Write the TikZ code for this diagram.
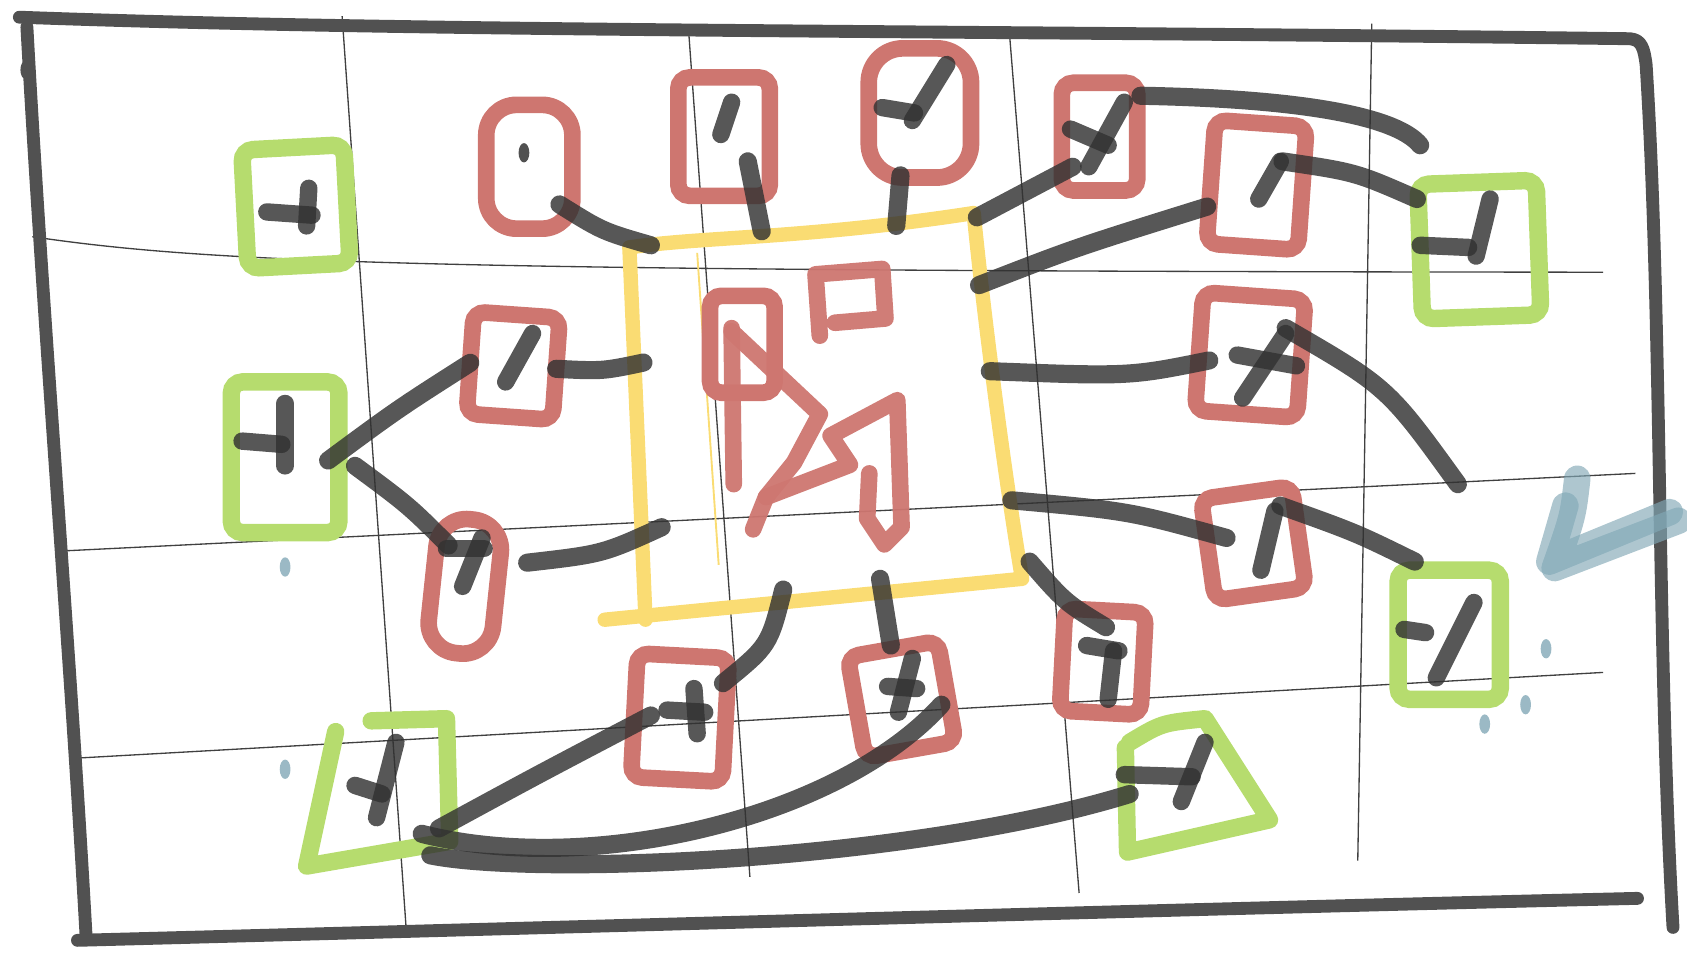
\documentclass[tikz,border=0pt]{standalone}
\usepackage{tikz}
\usetikzlibrary{positioning, calc}

\definecolor{sketchred}{RGB}{206,118,112}
\definecolor{sketchgreen}{RGB}{182,220,110}
\definecolor{sketchyellow}{RGB}{250,220,115}
\definecolor{sketchink}{RGB}{50,50,50}
\definecolor{sketchblue}{RGB}{130,168,182}

\begin{document}
\begin{tikzpicture}[
    x=0.01cm, y=-0.01cm,
    % Thick hand-drawn outer frame
    frameline/.style = {line width=3.4pt, sketchink!85, line cap=round, line join=round},
    % Thin pencil grid behind everything
    gridline/.style = {line width=0.35pt, black!75},
    % Box sizes are given in cm
    boxsize/.style 2 args = {minimum width=#1cm, minimum height=#2cm},
    redbox/.style = {draw=sketchred, line width=4.4pt, rounded corners=3pt, inner sep=0pt, outer sep=0pt},
    greenbox/.style = {draw=sketchgreen, line width=4.6pt, rounded corners=3pt, inner sep=0pt, outer sep=0pt},
    greenline/.style = {draw=sketchgreen, line width=4.6pt, line cap=round, line join=round},
    yellowline/.style = {draw=sketchyellow, line width=3.8pt, line cap=round, line join=round},
    redline/.style = {draw=sketchred, line width=4.4pt, line cap=round, line join=round, opacity=0.95},
    % Connectors: thick and a bit transparent so crossings show darker
    link/.style = {line width=4.8pt, sketchink, opacity=0.82, line cap=round},
    scrib/.style = {line width=4.6pt, sketchink, opacity=0.82, line cap=round},
    bluestroke/.style = {line width=7pt, sketchblue, opacity=0.65, line cap=round, line join=round}
]
    \useasboundingbox (0,0) rectangle (1568,885);

    % --- GRID ---
    \foreach \xa/\ya/\xb/\yb in {318/15/378/870, 640/28/697/815, 938/28/1003/830, 1275/22/1262/800}
        \draw[gridline] (\xa,\ya) -- (\xb,\yb);
    \draw[gridline] (30,220) .. controls (200,245) and (400,252) .. (1490,253);
    \draw[gridline] (60,512) -- (1520,440);
    \draw[gridline] (65,705) -- (1490,625);

    % --- OUTER FRAME ---
    \draw[frameline] (18,16) .. controls (400,30) and (900,28) .. (1515,36)
        .. controls (1526,37) and (1528,45) .. (1530,60)
        .. controls (1545,300) and (1540,600) .. (1555,862);
    \draw[frameline] (25,25) .. controls (40,300) and (65,600) .. (80,870);
    \draw[frameline] (72,874) .. controls (600,860) and (1100,845) .. (1522,835);
    \fill[sketchink!85] (23,65) ellipse (4 and 8);

    % --- CENTRE (yellow) ---
    \coordinate (Ytl) at (585,230);
    \coordinate (Ytr) at (905,198);
    \coordinate (Ybr) at (950,538);
    \coordinate (Ybl) at (600,576);
    \draw[yellowline] (Ytl) .. controls (650,220) and (750,222) .. (Ytr)
        .. controls (915,300) and (935,450) .. (Ybr) -- (562,576);
    \draw[yellowline] (Ytl) -- (Ybl);
    \draw[sketchyellow, line width=0.5pt] (648,235) -- (668,525);

    \node[redbox, boxsize={0.6}{0.9}] (C1) at (690,320) {};
    \draw[redline] (762,312) -- (758,255) -- (820,250) -- (823,296) -- (776,300);
    \draw[redline] (680,305) -- (682,450);
    \draw[redline] (680,308) -- (762,385) -- (738,430) -- (712,462) -- (700,492);
    \draw[redline] (712,462) -- (790,432) -- (772,405) -- (834,372) -- (838,490)
        -- (822,506) -- (806,482) -- (808,440);

    % ports on the yellow frame
    \coordinate (pA) at (605,228);
    \coordinate (pB) at (708,215);
    \coordinate (pC) at (833,210);
    \coordinate (pD) at (908,202);
    \coordinate (pE) at (910,265);
    \coordinate (pF) at (598,337);
    \coordinate (pG) at (615,490);
    \coordinate (pH) at (920,345);
    \coordinate (pI) at (940,465);
    \coordinate (pJ) at (957,522);
    \coordinate (pK) at (728,548);
    \coordinate (pL) at (818,538);

    % --- RED BOXES ---
    \node[redbox, boxsize={0.8}{1.15}, rounded corners=8pt] (R1) at (492,155) {};
    \node[redbox, boxsize={0.85}{1.1}] (R2) at (673,127) {};
    \node[redbox, boxsize={0.95}{1.2}, rounded corners=9pt] (R3) at (855,105) {};
    \node[redbox, boxsize={0.7}{1.0}] (R4) at (1022,127) {};
    \node[redbox, boxsize={0.85}{1.15}, rotate=-4] (R5) at (1168,172) {};
    \node[redbox, boxsize={0.8}{0.95}, rotate=-4] (R6) at (477,340) {};
    \node[redbox, boxsize={0.6}{1.25}, rotate=-6, rounded corners=8pt] (R7) at (432,545) {};
    \node[redbox, boxsize={0.95}{1.1}, rotate=-4] (R11) at (1162,330) {};
    \node[redbox, boxsize={0.85}{0.95}, rotate=8] (R12) at (1165,505) {};
    \node[redbox, boxsize={0.85}{1.15}, rotate=-3] (R13) at (632,667) {};
    \node[redbox, boxsize={0.85}{0.95}, rotate=10] (R14) at (838,650) {};
    \node[redbox, boxsize={0.75}{0.95}, rotate=-3] (R15) at (1025,615) {};

    % --- GREEN BOXES ---
    \node[greenbox, boxsize={0.95}{1.1}, rotate=3] (G1) at (275,192) {};
    \node[greenbox, boxsize={1.0}{1.4}] (G2) at (265,425) {};
    \node[greenbox, boxsize={1.1}{1.25}, rotate=2] (G4) at (1375,232) {};
    \node[greenbox, boxsize={0.95}{1.2}] (G5) at (1347,590) {};
    % the two slanted ones are drawn by hand round an empty node
    \node[inner sep=0pt, boxsize={1.3}{1.3}] (G3) at (350,737) {};
    \draw[greenline] (345,670) -- (415,668) -- (418,782) -- (285,805) -- (312,680);
    \node[inner sep=0pt, boxsize={1.35}{1.2}] (G6) at (1112,730) {};
    \draw[greenline] (1050,690) .. controls (1080,672) .. (1120,668) -- (1180,762)
        -- (1048,792) -- (1046,695);

    % --- MARKS INSIDE THE BOXES ---
    \foreach \ax/\ay/\bx/\by in {248/197/290/200, 287/175/285/210,
        680/95/670/125, 820/100/850/105, 880/60/848/112,
        995/120/1030/135, 1045/95/1012/155, 1190/150/1170/185,
        1320/228/1365/230, 1385/185/1372/238, 495/310/470/355,
        225/410/262/413, 265/375/265/433, 415/510/450/510, 448/500/430/545,
        1150/330/1205/340, 1195/310/1155/370, 1185/475/1172/530,
        1305/585/1325/588, 1370/560/1335/630, 620/660/655/662, 645/640/648/682,
        825/638/852/640, 848/612/835/662, 1010/600/1040/605, 1035/605/1030/650,
        330/730/355/738, 368/690/350/760, 1045/720/1108/722, 1120/690/1098/745}
        \draw[scrib] (\ax,\ay) -- (\bx,\by);
    \fill[sketchink, opacity=0.85] (487,142) ellipse (5 and 9);

    % --- CONNECTORS ---
    \coordinate (topEnd) at (1320,135);
    \coordinate (sideEnd) at (1355,450);
    \draw[link] ($(R1)+(28,35)$) .. controls (560,215) .. (pA);
    \draw[link] ($(R2)+(22,23)$) -- (pB);
    \draw[link] ($(R3)+(-18,58)$) -- (pC);
    \draw[link] ($(R4)+(-25,28)$) -- (pD);
    \draw[link] (pE) .. controls (1000,230) .. ($(R5)+(-46,20)$);
    \draw[link] ($(R4)+(38,-38)$) .. controls (1220,92) and (1300,110) .. (topEnd);
    \draw[link] ($(R5)+(24,-22)$) .. controls (1260,160) .. ($(G4)+(-58,-47)$);
    \draw[link] (R6.east) .. controls (560,345) .. (pF);
    \draw[link] ($(G2)+(40,3)$) .. controls (370,380) .. (R6.west);
    \draw[link] ($(G2)+(65,8)$) .. controls (380,470) .. ($(R7)+(-15,-38)$);
    \draw[link] ($(R7)+(58,-22)$) .. controls (560,515) .. (pG);
    \draw[link] (pH) .. controls (1050,350) .. ($(R11)+(-38,5)$);
    \draw[link] ($(R11)+(33,-25)$) .. controls (1290,360) .. (sideEnd);
    \draw[link] (pI) .. controls (1050,475) .. ($(R12)+(-25,-5)$);
    \draw[link] ($(R12)+(25,-35)$) .. controls (1260,495) .. ($(G5)+(-32,-68)$);
    \draw[link] (pJ) .. controls (990,560) .. ($(R15)+(3,-32)$);
    \draw[link] (pK) .. controls (715,600) .. ($(R13)+(40,-32)$);
    \draw[link] (pL) -- ($(R14)+(-10,-50)$);
    \draw[link] ($(G3)+(58,33)$) .. controls (500,720) .. ($(R13)+(-27,-2)$);
    \draw[link] ($(G3)+(42,38)$) .. controls (550,815) and (780,760) .. ($(R14)+(37,5)$);
    \draw[link] ($(G3)+(50,58)$) .. controls (500,815) and (850,800) .. ($(G6)+(-62,8)$);

    % --- BLUE TICK AND DOTS ---
    \draw[bluestroke] (1466,445) .. controls (1462,480) .. (1445,528) -- (1560,484);
    \draw[bluestroke] (1455,470) -- (1440,522) -- (1552,476);
    \foreach \x/\y in {265/527, 265/715, 1437/603, 1380/673, 1418/655}
        \fill[sketchblue, opacity=0.8] (\x,\y) ellipse (5 and 9);

\end{tikzpicture}
\end{document}
